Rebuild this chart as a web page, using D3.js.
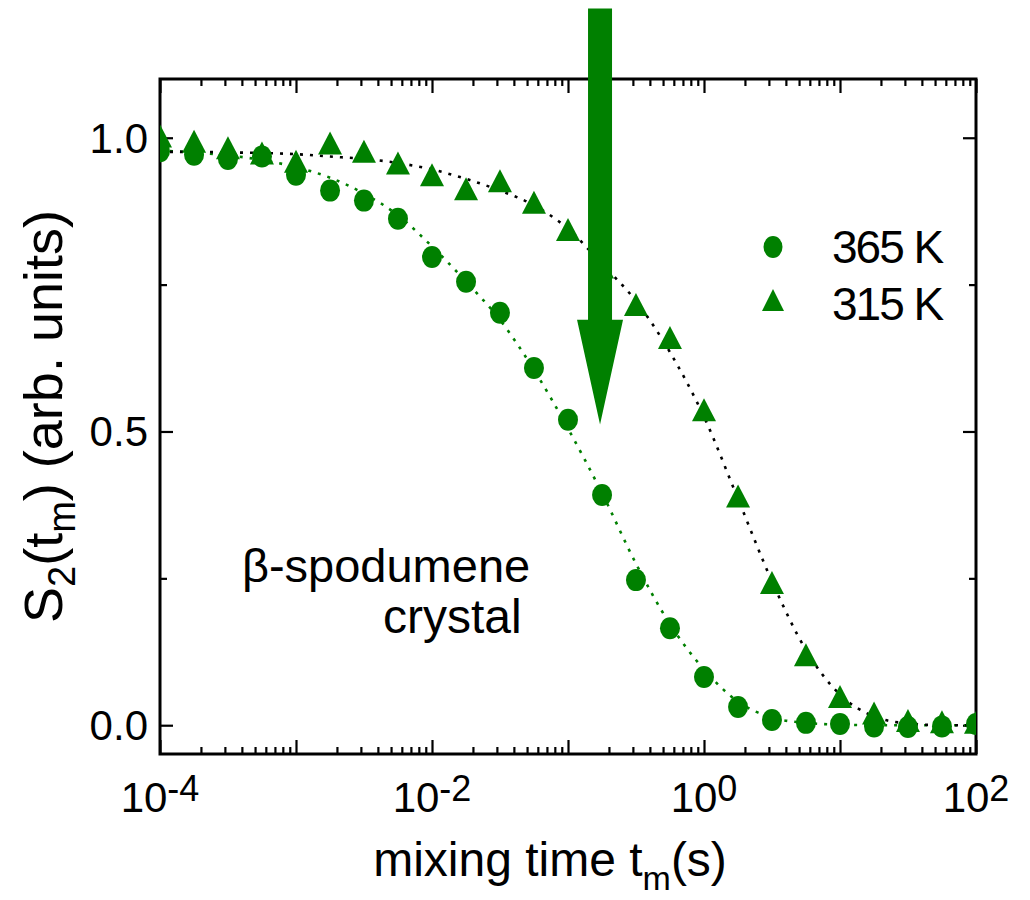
<!DOCTYPE html>
<html>
<head>
<meta charset="utf-8">
<script src="https://cdn.jsdelivr.net/npm/d3@7"></script>
<style>
  html, body { margin: 0; padding: 0; background: #fff; }
  svg { display: block; font-family: "Liberation Sans", Arial, sans-serif; }
</style>
</head>
<body>
<svg id="chart" width="1030" height="900"></svg>
<script>
// Mixing times (s), quarter-decade steps
const mixingTimes = [
  1e-4, 1.78e-4, 3.16e-4, 5.62e-4,
  1e-3, 1.78e-3, 3.16e-3, 5.62e-3,
  1e-2, 1.78e-2, 3.16e-2, 5.62e-2,
  0.1, 0.178, 0.316, 0.562,
  1, 1.78, 3.16, 5.62,
  10, 17.8, 31.6, 56.2, 100
];

// Measured S2(tm), 365 K
const s2At365K = [
  0.977, 0.971, 0.964, 0.968, 0.937, 0.910, 0.893, 0.862, 0.797, 0.755,
  0.702, 0.608, 0.520, 0.392, 0.247, 0.165, 0.082, 0.031, 0.009, 0.004,
  0.002, -0.002, -0.003, -0.002, 0.002
];

// Measured S2(tm), 315 K
const s2At315K = [
  1.003, 0.994, 0.983, 0.974, 0.960, 0.991, 0.977, 0.957, 0.937, 0.913,
  0.927, 0.890, 0.844, 0.780, 0.716, 0.660, 0.537, 0.390, 0.243, 0.120,
  0.049, 0.021, 0.008, 0.006, 0.005
];

// Fitted decay curves sampled at the same mixing times
const fit365K = [
  0.978, 0.975, 0.970, 0.962, 0.950, 0.932, 0.905, 0.868, 0.815, 0.755,
  0.690, 0.605, 0.505, 0.395, 0.275, 0.172, 0.095, 0.040, 0.013, 0.004,
  0.001, 0.0, 0.0, 0.0, 0.0
];
const fit315K = [
  0.976, 0.976, 0.975, 0.974, 0.972, 0.968, 0.964, 0.957, 0.946, 0.930,
  0.910, 0.885, 0.845, 0.785, 0.722, 0.635, 0.525, 0.385, 0.245, 0.128,
  0.052, 0.015, 0.003, 0.0, 0.0
];

const seriesLabels = ["365 K", "315 K"];

// Axis ticks
const xMajorTicks = [1e-4, 1e-3, 1e-2, 1e-1, 1, 10, 100];
const xLabelExponents = [-4, -2, 0, 2];
const yMajorTicks = [0, 0.5, 1.0];
const yMinorTicks = [0.25, 0.75];
const yTickLabels = ["0.0", "0.5", "1.0"];

// Arrow marking the relevant time, in data units
const arrowTime = 0.172;
const arrowTop = 1.22;
const arrowHeadBase = 0.69;
const arrowTip = 0.512;

const green = "#008000";
const svg = d3.select("#chart");

const plot = { left: 160, right: 976, top: 79, bottom: 754 };

const x = d3.scaleLog().domain([1e-4, 1e2]).range([plot.left, plot.right]);
const y = d3.scaleLinear().domain([-0.049, 1.1]).range([plot.bottom, plot.top]);

// minor x ticks 2..9 within each decade
const xMinorTicks = [];
xMajorTicks.slice(0, -1).forEach(d => {
  for (let m = 2; m <= 9; m++) xMinorTicks.push(d * m);
});

svg.append("defs").append("clipPath").attr("id", "plotClip")
  .append("rect")
  .attr("x", plot.left).attr("y", plot.top)
  .attr("width", plot.right - plot.left).attr("height", plot.bottom - plot.top);

// ---- axes (inward ticks on all four sides) ----
function styleAxis(g) {
  g.select(".domain").remove();
  g.selectAll(".tick line").attr("stroke", "#000").attr("stroke-width", 2.2);
  g.selectAll(".tick text").remove();
}
const bottomMajor = d3.axisBottom(x).tickValues(xMajorTicks).tickSize(-14).tickFormat("");
const bottomMinor = d3.axisBottom(x).tickValues(xMinorTicks).tickSize(-7).tickFormat("");
const topMajor = d3.axisTop(x).tickValues(xMajorTicks).tickSize(-14).tickFormat("");
const topMinor = d3.axisTop(x).tickValues(xMinorTicks).tickSize(-7).tickFormat("");
const leftMajor = d3.axisLeft(y).tickValues(yMajorTicks).tickSize(-13).tickFormat("");
const leftMinor = d3.axisLeft(y).tickValues(yMinorTicks).tickSize(-7).tickFormat("");
const rightMajor = d3.axisRight(y).tickValues(yMajorTicks).tickSize(-13).tickFormat("");
const rightMinor = d3.axisRight(y).tickValues(yMinorTicks).tickSize(-7).tickFormat("");

[[bottomMajor, 0, plot.bottom], [bottomMinor, 0, plot.bottom],
 [topMajor, 0, plot.top], [topMinor, 0, plot.top],
 [leftMajor, plot.left, 0], [leftMinor, plot.left, 0],
 [rightMajor, plot.right, 0], [rightMinor, plot.right, 0]].forEach(([ax, tx, ty]) => {
  svg.append("g").attr("transform", `translate(${tx},${ty})`).call(ax).call(styleAxis);
});

// frame
svg.append("rect")
  .attr("x", plot.left).attr("y", plot.top)
  .attr("width", plot.right - plot.left).attr("height", plot.bottom - plot.top)
  .attr("fill", "none").attr("stroke", "#000").attr("stroke-width", 3);

// x tick labels: 10^n
const xLab = svg.append("g").attr("font-size", 42).attr("fill", "#000");
xLabelExponents.forEach(e => {
  const t = xLab.append("text")
    .attr("x", x(Math.pow(10, e)))
    .attr("y", 812)
    .attr("text-anchor", "middle");
  t.append("tspan").text("10");
  t.append("tspan").attr("font-size", 36).attr("dy", -11).text(e < 0 ? "-" + Math.abs(e) : String(e));
});

// y tick labels
const yLab = svg.append("g").attr("font-size", 42).attr("fill", "#000");
yMajorTicks.forEach((v, i) => {
  yLab.append("text")
    .attr("x", plot.left - 12)
    .attr("y", y(v) + 15)
    .attr("text-anchor", "end")
    .text(yTickLabels[i]);
});

// axis titles
const xTitle = svg.append("text")
  .attr("x", 550).attr("y", 876)
  .attr("text-anchor", "middle")
  .attr("font-size", 48);
xTitle.append("tspan").text("mixing time t");
xTitle.append("tspan").attr("font-size", 34).attr("dy", 14).text("m");
xTitle.append("tspan").attr("dy", -14).text("(s)");

const yTitle = svg.append("text")
  .attr("transform", `translate(62,${(plot.top + plot.bottom) / 2}) rotate(-90)`)
  .attr("text-anchor", "middle")
  .attr("font-size", 54);
yTitle.append("tspan").text("S");
yTitle.append("tspan").attr("font-size", 38).attr("dy", 13).text("2");
yTitle.append("tspan").attr("dy", -13).text("(t");
yTitle.append("tspan").attr("font-size", 38).attr("dy", 13).text("m");
yTitle.append("tspan").attr("dy", -13).text(") (arb. units)");

// ---- fit curves ----
const plotArea = svg.append("g").attr("clip-path", "url(#plotClip)");
const line = d3.line()
  .x(d => x(d[0]))
  .y(d => y(d[1]))
  .curve(d3.curveMonotoneX);

plotArea.append("path")
  .datum(mixingTimes.map((t, i) => [t, fit365K[i]]))
  .attr("d", line)
  .attr("fill", "none").attr("stroke", green)
  .attr("stroke-width", 2.6).attr("stroke-dasharray", "3,7");

plotArea.append("path")
  .datum(mixingTimes.map((t, i) => [t, fit315K[i]]))
  .attr("d", line)
  .attr("fill", "none").attr("stroke", "#000")
  .attr("stroke-width", 2.6).attr("stroke-dasharray", "3,7");

// ---- markers ----
const triW = 24, triH = 23, circRx = 10, circRy = 11;
function triPath(cx, cy, w, h) {
  return `M${cx},${cy - h / 2}L${cx + w / 2},${cy + h / 2}L${cx - w / 2},${cy + h / 2}Z`;
}

plotArea.append("g").selectAll("ellipse")
  .data(mixingTimes.map((t, i) => [t, s2At365K[i]]))
  .join("ellipse")
  .attr("cx", d => x(d[0])).attr("cy", d => y(d[1]))
  .attr("rx", circRx).attr("ry", circRy)
  .attr("fill", green);

plotArea.append("g").selectAll("path")
  .data(mixingTimes.map((t, i) => [t, s2At315K[i]]))
  .join("path")
  .attr("d", d => triPath(x(d[0]), y(d[1]), triW, triH))
  .attr("fill", green);

// ---- legend ----
const legend = svg.append("g").attr("font-size", 46).attr("letter-spacing", -2);
const legX = 773, legTextX = 832;
legend.append("ellipse").attr("cx", legX).attr("cy", 247).attr("rx", 9.5).attr("ry", 11).attr("fill", green);
legend.append("text").attr("x", legTextX).attr("y", 263).text(seriesLabels[0]);
legend.append("path").attr("d", triPath(legX, 300, 22, 22)).attr("fill", green);
legend.append("text").attr("x", legTextX).attr("y", 320).text(seriesLabels[1]);

// ---- sample annotation ----
svg.append("text")
  .attr("x", x(4.0e-4)).attr("y", y(0.2436))
  .attr("font-size", 47)
  .text("β-spodumene");
svg.append("text")
  .attr("x", x(4.36e-3)).attr("y", y(0.157))
  .attr("font-size", 48)
  .text("crystal");

// ---- arrow ----
const ax0 = x(arrowTime);
const shaftHalf = 12, headHalf = 23;
const yTop = y(arrowTop), yHead = y(arrowHeadBase), yTip = y(arrowTip);
svg.append("path")
  .attr("d", `M${ax0 - shaftHalf},${yTop}L${ax0 + shaftHalf},${yTop}L${ax0 + shaftHalf},${yHead}` +
             `L${ax0 + headHalf},${yHead}L${ax0},${yTip}L${ax0 - headHalf},${yHead}` +
             `L${ax0 - shaftHalf},${yHead}Z`)
  .attr("fill", green);
</script>
</body>
</html>
